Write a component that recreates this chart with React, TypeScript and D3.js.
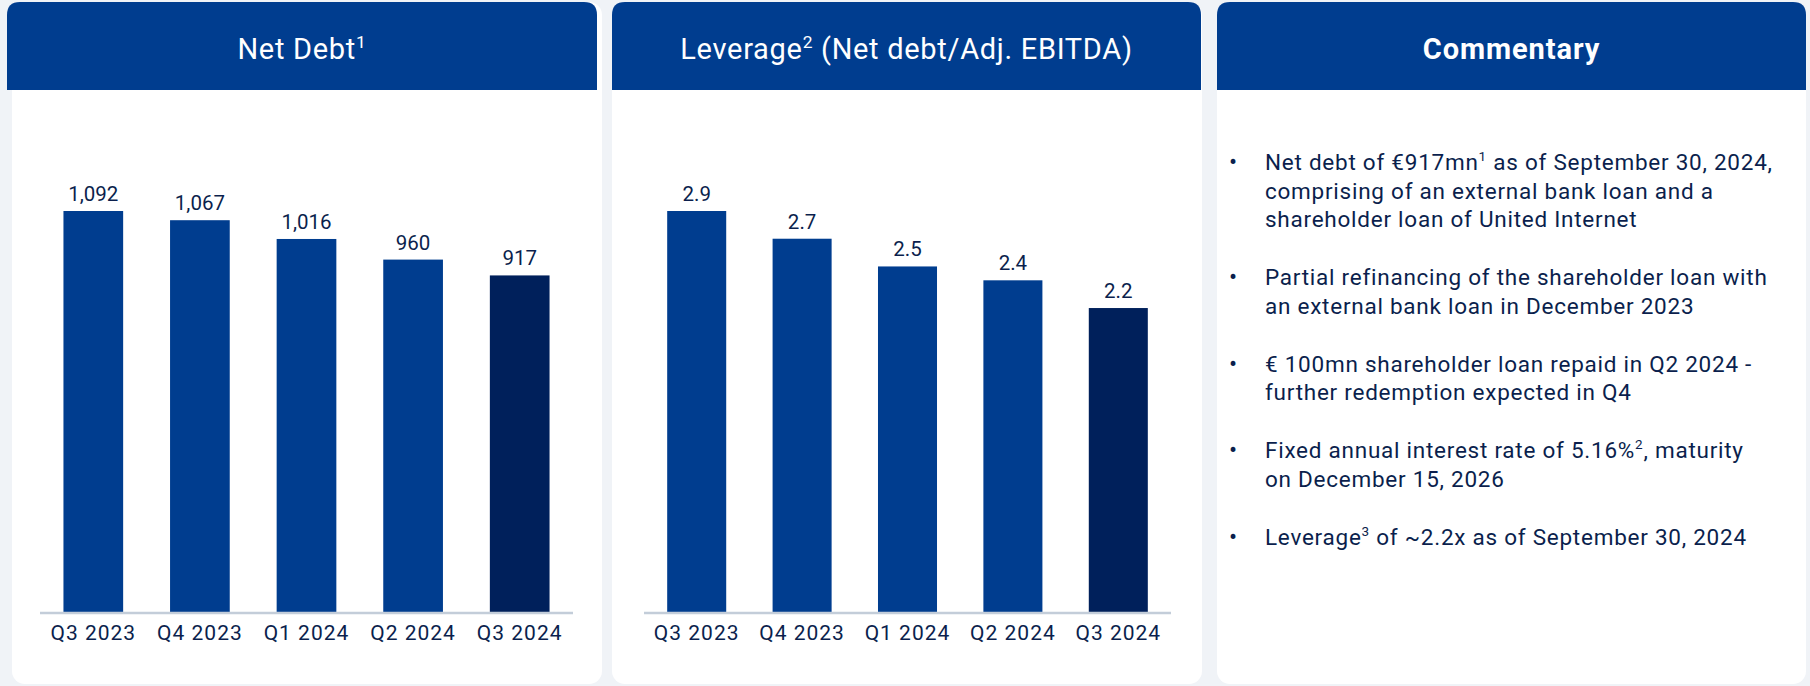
import React from "react";
import * as d3 from "d3";

const quarters = ["Q3 2023", "Q4 2023", "Q1 2024", "Q2 2024", "Q3 2024"];
const netDebt = [1092, 1067, 1016, 960, 917];
const leverage = [2.9, 2.7, 2.5, 2.4, 2.2];

// "^n" marks a superscript
const commentary = [
  ["Net debt of €917mn^1 as of September 30, 2024,", "comprising of an external bank loan and a", "shareholder loan of United Internet"],
  ["Partial refinancing of the shareholder loan with", "an external bank loan in December 2023"],
  ["€ 100mn shareholder loan repaid in Q2 2024 -", "further redemption expected in Q4"],
  ["Fixed annual interest rate of 5.16%^2, maturity", "on December 15, 2026"],
  ["Leverage^3 of ~2.2x as of September 30, 2024"],
];

const W = 1810;
const H = 686;
const BLUE = "#003d8f";
const NAVY = "#00205b";
const INK = "#0b1f4d";
const FONT = "Roboto, 'Noto Sans', sans-serif";

const Rich = ({ text, size }: { text: string; size: number }) => {
  const parts = text.split(/\^(\d)/);
  return (
    <>
      {parts.map((p, i) =>
        i % 2 === 1 ? (
          <tspan key={i} fontSize={size * 0.6} dy={-size * 0.38}>
            {p}
          </tspan>
        ) : (
          <tspan key={i} dy={i > 0 ? size * 0.38 : 0}>
            {p}
          </tspan>
        )
      )}
    </>
  );
};

const Panel = ({ x, w, hx, hw, title, bold }: any) => {
  const r = 13;
  const top = 2;
  const headBottom = 90;
  const bottom = 684;
  return (
    <g>
      <rect x={x} y={top} width={w} height={bottom - top} rx={r} fill="#ffffff" />
      <path
        d={`M${hx},${headBottom} V${top + r} Q${hx},${top} ${hx + r},${top} H${hx + hw - r} Q${hx + hw},${top} ${hx + hw},${top + r} V${headBottom} Z`}
        fill={BLUE}
      />
      <text
        x={hx + hw / 2}
        y={59}
        textAnchor="middle"
        fill="#ffffff"
        fontSize={29}
        letterSpacing={bold ? 0.9 : 0.7}
        fontWeight={bold ? 700 : 400}
      >
        <Rich text={title} size={29} />
      </text>
    </g>
  );
};

const Bars = ({ values, x0, x1, fmt }: any) => {
  const x = d3.scaleBand<string>().domain(quarters).range([x0, x1]).paddingInner(0.44).paddingOuter(0.22);
  const y = d3.scaleLinear().domain([0, d3.max(values as number[])!]).range([613, 211]);
  return (
    <g>
      {quarters.map((q, i) => (
        <g key={q}>
          <rect
            x={x(q)}
            y={y(values[i])}
            width={x.bandwidth()}
            height={y(0) - y(values[i])}
            fill={i === quarters.length - 1 ? NAVY : BLUE}
          />
          <text x={x(q)! + x.bandwidth() / 2} y={y(values[i]) - 10} textAnchor="middle" fontSize={20.5} fill={INK}>
            {fmt(values[i])}
          </text>
          <text
            x={x(q)! + x.bandwidth() / 2}
            y={640}
            textAnchor="middle"
            fontSize={21}
            letterSpacing={1}
            fill={INK}
          >
            {q}
          </text>
        </g>
      ))}
      <line x1={x0} x2={x1} y1={613} y2={613} stroke="#c3cdd9" strokeWidth={2.5} />
    </g>
  );
};

export default function App() {
  let yy = 170;
  const lineH = 28.5;
  const paraGap = 58;
  return (
    <svg width={W} height={H} style={{ position: "absolute", left: 0, top: 0, display: "block" }} fontFamily={FONT}>
      <rect width={W} height={H} fill="#f0f3f7" />
      <Panel x={12} w={590} hx={7} hw={590} title="Net Debt^1" />
      <Panel x={612} w={590} hx={612} hw={589} title="Leverage^2 (Net debt/Adj. EBITDA)" />
      <Panel x={1217} w={589} hx={1217} hw={589} title="Commentary" bold />
      <Bars values={netDebt} x0={40} x1={573} fmt={d3.format(",")} />
      <Bars values={leverage} x0={644} x1={1171} fmt={d3.format(".1f")} />
      <g fill={INK} fontSize={22.5} letterSpacing={0.75}>
        {commentary.map((para, pi) => {
          const start = yy;
          yy += (para.length - 1) * lineH + paraGap;
          return (
            <g key={pi}>
              <text x={1229} y={start} fontSize={24} letterSpacing={0}>
                •
              </text>
              {para.map((ln, li) => (
                <text key={li} x={1265} y={start + li * lineH}>
                  <Rich text={ln} size={22.5} />
                </text>
              ))}
            </g>
          );
        })}
      </g>
    </svg>
  );
}
